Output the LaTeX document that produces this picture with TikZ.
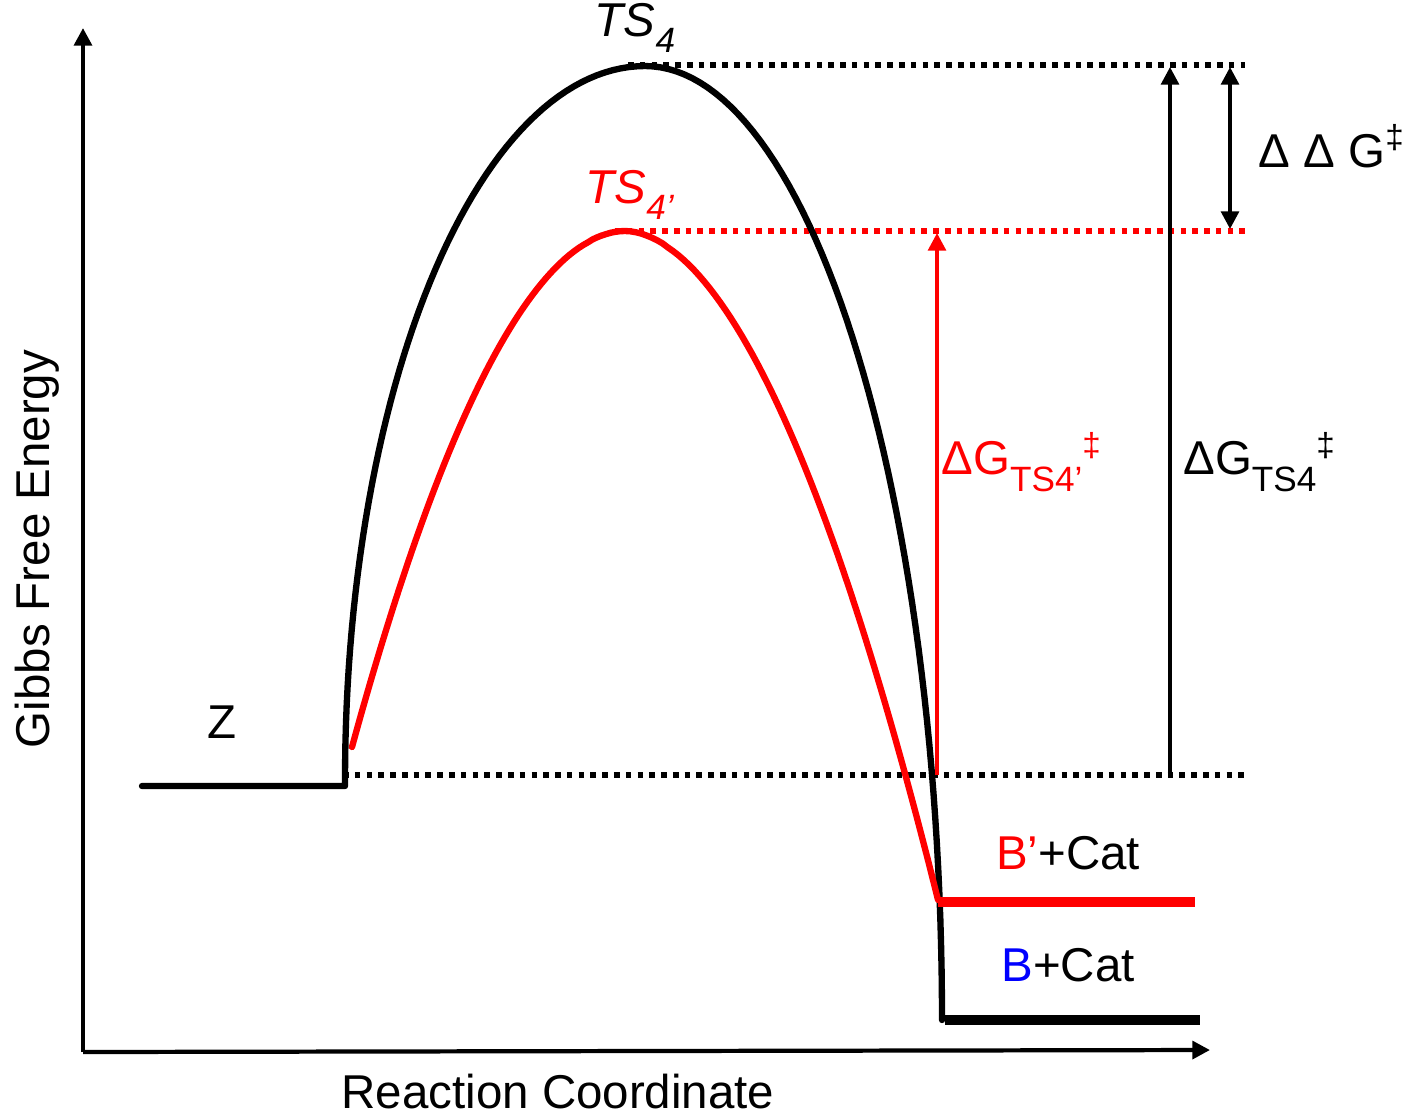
\documentclass[tikz,border=0pt]{standalone}
\usepackage{fontspec}
\setmainfont{Liberation Sans}
\usetikzlibrary{arrows.meta}
\newcommand{\lowsub}[1]{\raisebox{-0.35em}{\fontsize{10}{10}\selectfont #1}}
\tikzset{
  axis line/.style={
    line width=1.2pt, -{Triangle[length=5pt, width=5pt]}
  },
  level dots/.style={
    line width=1.6pt, dash pattern=on 1.6pt off 1.75pt
  },
  barrier/.style={
    line width=1.8pt, line join=round, line cap=round
  },
  gap arrow/.style={
    line width=1.1pt, -{Triangle[length=5pt, width=5pt]}
  },
  label/.style={
    font=\fontsize{13.5}{15}\selectfont, inner sep=0pt
  },
}

\begin{document}
\begin{tikzpicture}[x=0.01cm, y=-0.01cm]
  \useasboundingbox (0,0) rectangle (1404,1115);

  % Axes
  \coordinate (origin) at (83,1052);
  \coordinate (yend) at (83,28);
  \coordinate (xend) at (1210,1050);
  \draw[axis line] (origin) -- (yend);
  \draw[axis line] (origin) -- (xend);
  \node[label, rotate=90] (ylab) at (37,549) {Gibbs Free Energy};
  \node[label] (xlab) at (558,1092) {Reaction Coordinate};

  % Reference levels
  \draw[level dots] (343,775) -- (1245,775);
  \draw[level dots] (628,65) -- (1245,65);
  \draw[level dots, red] (615,231) -- (1245,231);

  % Uncatalysed barrier
  \draw[barrier] (142,786) -- (345,786) -- (345,780)
    plot[domain=180:90, samples=60] ({645+300*cos(\x)}, {780-714*sin(\x)})
    plot[domain=90:0, samples=60] ({645+297*cos(\x)}, {1020-954*sin(\x)});
  \draw[line width=2.8pt] (945,1020) -- (1200,1020);

  % Catalysed barrier
  \draw[barrier, red]
    plot[domain=352:624.9, samples=60] (\x, {231+516*((625-\x)/273)^1.93})
    plot[domain=625.1:938, samples=60] (\x, {231+669*((\x-625)/313)^1.88});
  \draw[line width=2.6pt, red] (938,902) -- (1195,902);

  % Gaps
  \coordinate (redbase) at (937,775);
  \coordinate (redtop) at (937,233);
  \coordinate (blkbase) at (1170,775);
  \coordinate (blktop) at (1170,67);
  \coordinate (ddtop) at (1230,67);
  \coordinate (ddbot) at (1230,229);
  \draw[gap arrow, red] (redbase) -- (redtop);
  \draw[gap arrow] (blkbase) -- (blktop);
  \draw[gap arrow, {Triangle[length=5pt, width=5pt]}-{Triangle[length=5pt, width=5pt]}] (ddbot) -- (ddtop);

  % Labels
  \node[label] (ts) at (635,28) {\textit{TS}\lowsub{\textit{4}}};
  \node[label, red] (tsc) at (630,195) {\textit{TS}\lowsub{\textit{4’}}};
  \node[label] (z) at (222,722) {Z};
  \node[label] (ddg) at (1332,146) {Δ Δ G\textsuperscript{‡}};
  \node[label, red] (dgc) at (1022,462) {ΔG\lowsub{TS4’}\textsuperscript{‡}};
  \node[label] (dg) at (1260,462) {ΔG\lowsub{TS4}\textsuperscript{‡}};
  \node[label] (bp) at (1068,853) {\textcolor{red}{B’}+Cat};
  \node[label] (b) at (1068,965) {\textcolor{blue}{B}+Cat};
\end{tikzpicture}
\end{document}
